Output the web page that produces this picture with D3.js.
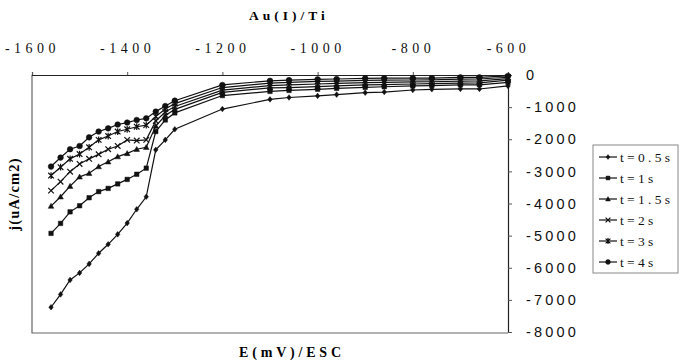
<!DOCTYPE html>
<html>
<head>
<meta charset="utf-8">
<script src="https://cdn.jsdelivr.net/npm/d3@7"></script>
<style>
  body { margin: 0; background: #fff; }
  svg { display: block; }
</style>
</head>
<body>
<div id="chart"></div>
<script>
// potential E (mV vs ESC)
const potential = [-1560, -1540, -1520, -1500, -1480, -1460, -1440, -1420, -1400, -1380, -1360, -1340, -1320, -1300,
    -1200, -1100, -1060, -1000, -960, -900, -860, -800, -760, -700, -660, -600];

// current density j (uA/cm2), one array per pulse time
const t05 = [-7230, -6830, -6380, -6160, -5880, -5550, -5270, -4960, -4610, -4180, -3790, -2330, -2020, -1690,
    -1060, -760, -700, -650, -610, -550, -530, -467, -445, -435, -435, -340];
const t1 = [-4930, -4620, -4260, -4070, -3820, -3630, -3530, -3390, -3250, -3090, -2900, -1760, -1400, -1180,
    -640, -510, -480, -445, -415, -385, -365, -340, -330, -310, -305, -230];
const t15 = [-4080, -3790, -3460, -3170, -3060, -2850, -2700, -2540, -2440, -2310, -2250, -1590, -1260, -1070,
    -540, -400, -390, -360, -340, -310, -300, -280, -270, -250, -245, -160];
const t2 = [-3600, -3320, -3010, -2770, -2610, -2470, -2310, -2210, -2020, -2040, -2020, -1430, -1150, -980,
    -470, -330, -310, -280, -260, -240, -230, -215, -210, -190, -185, -110];
const t3 = [-3130, -2870, -2610, -2460, -2250, -2020, -1900, -1760, -1690, -1610, -1560, -1290, -1060, -890,
    -390, -250, -230, -200, -190, -170, -160, -155, -150, -130, -125, -70];
const t4 = [-2850, -2570, -2310, -2210, -1940, -1760, -1660, -1540, -1480, -1400, -1350, -1140, -965, -800,
    -310, -180, -160, -135, -125, -105, -100, -100, -100, -75, -75, -30];

const seriesNames = ['t=0.5s', 't=1s', 't=1.5s', 't=2s', 't=3s', 't=4s'];
const seriesValues = [t05, t1, t15, t2, t3, t4];

const xTicks = [-1600, -1400, -1200, -1000, -800, -600];
const yTicks = [0, -1000, -2000, -3000, -4000, -5000, -6000, -7000, -8000];

const width = 689;
const height = 364;
const plot = { left: 32, right: 508, top: 75, bottom: 332 };

const xScale = d3.scaleLinear().domain([-1600, -600]).range([plot.left, plot.right]);
const yScale = d3.scaleLinear().domain([-8000, 0]).range([plot.bottom, plot.top]);

const serif = '"Liberation Serif", "DejaVu Serif", serif';
const sans = '"Liberation Sans", Arial, sans-serif';

const svg = d3.select('#chart')
    .append('svg')
    .attr('width', width)
    .attr('height', height);

// plot frame (left + bottom)
svg.append('path')
    .attr('d', `M${plot.left},${plot.top}V${plot.bottom + 1}H${plot.right}`)
    .attr('fill', 'none')
    .attr('stroke', '#666')
    .attr('stroke-width', 1.2);

// top x axis, sitting on j = 0
const xAxis = svg.append('g')
    .attr('transform', `translate(0, ${yScale(0)})`)
    .call(d3.axisTop(xScale).tickValues(xTicks).tickSize(3).tickPadding(19)
        .tickFormat(d => String(d)));
xAxis.select('.domain').attr('stroke', '#222').attr('stroke-width', 1.2);
xAxis.selectAll('.tick line').attr('stroke', '#555');
xAxis.selectAll('text')
    .attr('font-family', serif)
    .attr('font-size', 14)
    .attr('letter-spacing', 4.5)
    .attr('fill', '#111');

// right y axis
const yAxis = svg.append('g')
    .attr('transform', `translate(${plot.right}, 0)`)
    .call(d3.axisRight(yScale).tickValues(yTicks).tickSize(4).tickPadding(14)
        .tickFormat(d => String(d)));
yAxis.select('.domain').attr('stroke', '#222').attr('stroke-width', 1.2);
yAxis.selectAll('.tick line').attr('stroke', '#555');
yAxis.selectAll('text')
    .attr('font-family', sans)
    .attr('font-size', 14.5)
    .attr('letter-spacing', 3.2)
    .attr('fill', '#111');

// markers
const markerPath = (i, s) => {
    switch (i) {
        case 0: return `M0,${-s}L${s * 0.8},0L0,${s}L${-s * 0.8},0Z`;
        case 1: return `M${-s * 0.8},${-s * 0.8}H${s * 0.8}V${s * 0.8}H${-s * 0.8}Z`;
        case 2: return `M0,${-s}L${s},${s * 0.8}H${-s}Z`;
        case 3: return `M${-s},${-s}L${s},${s}M${-s},${s}L${s},${-s}`;
        case 4: return `M${-s},${-s}L${s},${s}M${-s},${s}L${s},${-s}M0,${-s * 1.2}V${s * 1.2}`;
        default: return d3.symbol(d3.symbolCircle, s * s * 3.2)();
    }
};

const line = d3.line()
    .x(d => xScale(d.e))
    .y(d => yScale(d.j));

seriesValues.forEach((values, i) => {
    const data = potential.map((e, k) => ({ e, j: values[k] }));
    const g = svg.append('g');
    g.append('path')
        .datum(data)
        .attr('fill', 'none')
        .attr('stroke', '#111')
        .attr('stroke-width', 1.2)
        .attr('d', line);
    g.selectAll('path.mk')
        .data(data)
        .enter()
        .append('path')
        .attr('class', 'mk')
        .attr('transform', d => `translate(${xScale(d.e)},${yScale(d.j)})`)
        .attr('d', markerPath(i, 2.8))
        .attr('fill', '#111')
        .attr('stroke', '#111')
        .attr('stroke-width', i === 3 || i === 4 ? 1.2 : 0.5);
});

// titles
svg.append('text')
    .attr('x', 289)
    .attr('y', 20)
    .attr('text-anchor', 'middle')
    .attr('font-family', serif)
    .attr('font-weight', 'bold')
    .attr('font-size', 13.5)
    .attr('letter-spacing', 4)
    .text('Au(I)/Ti');

svg.append('text')
    .attr('x', 292)
    .attr('y', 357)
    .attr('text-anchor', 'middle')
    .attr('font-family', serif)
    .attr('font-weight', 'bold')
    .attr('font-size', 14)
    .attr('letter-spacing', 3.8)
    .text('E(mV)/ESC');

svg.append('text')
    .attr('transform', 'translate(19, 194) rotate(-90)')
    .attr('text-anchor', 'middle')
    .attr('font-family', serif)
    .attr('font-weight', 'bold')
    .attr('font-size', 14.5)
    .attr('letter-spacing', 1.2)
    .text('j(uA/cm2)');

// legend
const legend = svg.append('g').attr('transform', 'translate(593, 145)');
legend.append('rect')
    .attr('width', 85)
    .attr('height', 128)
    .attr('fill', '#fff')
    .attr('stroke', '#888')
    .attr('stroke-width', 1);

seriesNames.forEach((name, i) => {
    const y = 12 + i * 21;
    const row = legend.append('g').attr('transform', `translate(0, ${y})`);
    row.append('line')
        .attr('x1', 6).attr('x2', 24)
        .attr('stroke', '#111').attr('stroke-width', 1.2);
    row.append('path')
        .attr('transform', 'translate(15, 0)')
        .attr('d', markerPath(i, 2.4))
        .attr('fill', '#111')
        .attr('stroke', '#111')
        .attr('stroke-width', i === 3 || i === 4 ? 1.2 : 0.5);
    row.append('text')
        .attr('x', 27)
        .attr('y', 4.5)
        .attr('font-family', serif)
        .attr('font-size', 13.5)
        .attr('letter-spacing', 3.3)
        .attr('fill', '#111')
        .text(name);
});
</script>
</body>
</html>
